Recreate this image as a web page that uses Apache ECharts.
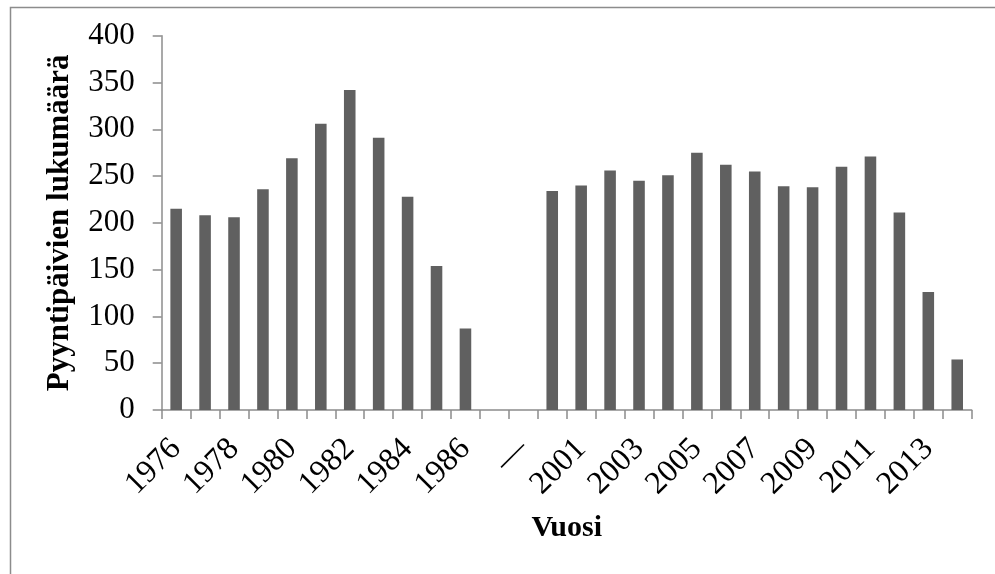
<!DOCTYPE html>
<html>
<head>
<meta charset="utf-8">
<script src="https://cdn.jsdelivr.net/npm/echarts@6/dist/echarts.min.js"></script>
<style>
html,body{margin:0;padding:0;background:#fff;}
#c{width:995px;height:574px;}
</style>
</head>
<body>
<div id="c"></div>
<script>
var categories = ['1976','1977','1978','1979','1980','1981','1982','1983','1984','1985','1986','','\u2014',
  '2000','2001','2002','2003','2004','2005','2006','2007','2008','2009','2010','2011','2012','2013','2014'];
var values = [215,208,206,236,269,306,342,291,228,154,87,null,null,
  234,240,256,245,251,275,262,255,239,238,260,271,211,126,54];
var yTicks = {min:0, max:400, interval:50};
var xTitle = 'Vuosi';
var yTitle = 'Pyyntipäivien lukumäärä';

var FONT = '"Liberation Serif","Times New Roman",serif';
var chart = echarts.init(document.getElementById('c'), null, {renderer:'canvas'});
chart.setOption({
  animation:false,
  backgroundColor:'#ffffff',
  graphic:[{
    type:'rect', left:8, top:5, silent:true,
    shape:{x:0,y:0,width:1000,height:600},
    style:{fill:'none', stroke:'#8c8c8c', lineWidth:1.5}
  }],
  grid:{left:161.7, right:23.3, top:35.7, bottom:164, containLabel:false},
  xAxis:{
    type:'category', data:categories, boundaryGap:true,
    name:xTitle, nameLocation:'middle', nameGap:103,
    nameTextStyle:{fontFamily:FONT, fontSize:30, fontWeight:'bold', color:'#000'},
    axisLine:{show:true, lineStyle:{color:'#8c8c8c', width:1.5}},
    axisTick:{show:true, interval:0, length:9, alignWithLabel:false, lineStyle:{color:'#8c8c8c', width:1.5}},
    axisLabel:{interval:1, rotate:45, margin:34, fontFamily:FONT, fontSize:32, color:'#000'},
    splitLine:{show:false}
  },
  yAxis:{
    type:'value', min:yTicks.min, max:yTicks.max, interval:yTicks.interval,
    name:yTitle, nameLocation:'middle', nameGap:86, nameRotate:90,
    nameTextStyle:{fontFamily:FONT, fontSize:31, fontWeight:'bold', color:'#000'},
    axisLine:{show:true, lineStyle:{color:'#8c8c8c', width:1.5}},
    axisTick:{show:true, length:9, lineStyle:{color:'#8c8c8c', width:1.5}},
    axisLabel:{margin:27, fontFamily:FONT, fontSize:31, color:'#000'},
    splitLine:{show:false}
  },
  series:[{
    type:'bar', data:values, barWidth:'40%',
    itemStyle:{color:'#606060'}
  }]
});
</script>
</body>
</html>
